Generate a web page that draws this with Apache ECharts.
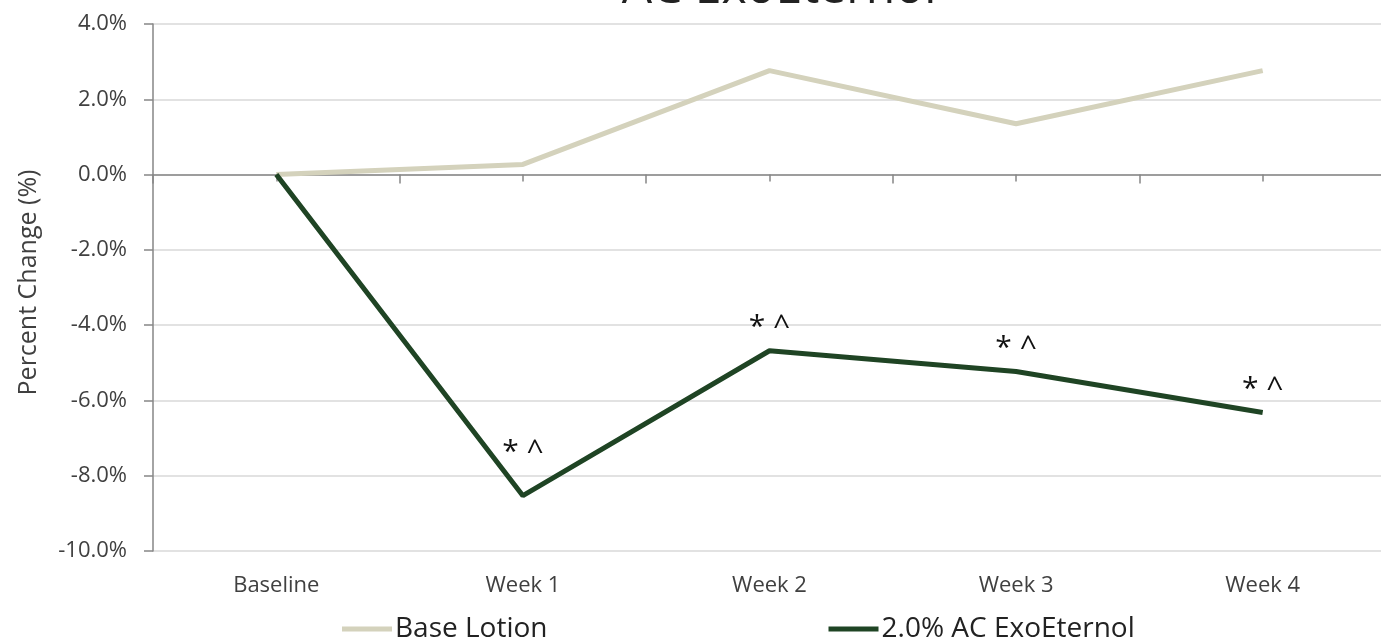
<!DOCTYPE html>
<html>
<head>
<meta charset="utf-8">
<script src="https://cdn.jsdelivr.net/npm/echarts@6/dist/echarts.min.js"></script>
<style>
html,body{margin:0;padding:0;background:#fff;}
#c{width:1381px;height:639px;}
</style>
</head>
<body>
<div id="c"></div>
<script>
const categories = ['Baseline', 'Week 1', 'Week 2', 'Week 3', 'Week 4'];
const baseLotion = [0, 0.27, 2.76, 1.35, 2.76];
const exoEternol = [0, -8.53, -4.68, -5.23, -6.32];
const exoLabels = ['', '* ^', '* ^', '* ^', '* ^'];
const yTicks = { min: -10, max: 4, interval: 2 };
const seriesNames = ['Base Lotion', '2.0% AC ExoEternol'];
const titleText = 'AC ExoEternol';

const FONT = "'Open Sans', sans-serif";
const GRID = { left: 153, right: -5, top: 24, bottom: 88 };
const H = 639;
const plotH = H - GRID.top - GRID.bottom;
const zeroFromBottom = plotH * (0 - yTicks.min) / (yTicks.max - yTicks.min);

const chart = echarts.init(document.getElementById('c'));

const exoData = exoEternol.map((v, i) => ({
  value: v,
  label: {
    show: exoLabels[i] !== '',
    formatter: exoLabels[i],
    distance: i === 1 ? 28 : 8
  }
}));

chart.setOption({
  animation: false,
  title: {
    text: titleText,
    left: 774,
    textAlign: 'center',
    top: -40,
    textStyle: { fontFamily: FONT, fontSize: 48, fontWeight: 'normal', color: '#222' }
  },
  grid: Object.assign({ containLabel: false, outerBoundsMode: 'none' }, GRID),
  legend: {
    bottom: -9,
    left: 337,
    itemGap: 281,
    itemWidth: 50,
    itemHeight: 5,
    icon: 'rect',
    textStyle: { fontFamily: FONT, fontSize: 28, color: '#222', padding: [0, 0, 0, -2] },
    data: seriesNames
  },
  xAxis: [
    {
      type: 'category',
      data: categories,
      boundaryGap: true,
      position: 'bottom',
      axisLine: { onZero: true, lineStyle: { color: '#868686', width: 1.5 } },
      axisTick: { show: true, length: 9, lineStyle: { color: '#868686', width: 1.5 } },
      axisLabel: { show: false },
      splitLine: { show: false }
    },
    {
      type: 'category',
      data: categories,
      boundaryGap: true,
      position: 'bottom',
      axisLine: { show: false, onZero: false },
      axisTick: { show: false },
      axisLabel: { show: true, margin: 24, fontFamily: FONT, fontSize: 22, color: '#404040' },
      splitLine: { show: false }
    },
    {
      type: 'category',
      data: categories,
      boundaryGap: true,
      position: 'bottom',
      offset: -zeroFromBottom,
      axisLine: { show: false, onZero: false },
      axisTick: { show: true, alignWithLabel: true, length: 7, lineStyle: { color: '#868686', width: 1.5 } },
      axisLabel: { show: false },
      splitLine: { show: false }
    }
  ],
  yAxis: {
    type: 'value',
    min: yTicks.min,
    max: yTicks.max,
    interval: yTicks.interval,
    name: 'Percent Change (%)',
    nameLocation: 'middle',
    nameGap: 112,
    nameTextStyle: { fontFamily: FONT, fontSize: 25, color: '#404040', padding: [0, 0, 0, 10] },
    axisLine: { show: true, lineStyle: { color: '#868686', width: 1.5 } },
    axisTick: { show: true, length: 9, lineStyle: { color: '#868686', width: 1.5 } },
    axisLabel: {
      margin: 26,
      fontFamily: FONT,
      fontSize: 22,
      color: '#404040',
      formatter: v => v.toFixed(1) + '%'
    },
    splitLine: { show: true, lineStyle: { color: '#d9d9d9', width: 1.5 } }
  },
  series: [
    {
      name: seriesNames[0],
      type: 'line',
      xAxisIndex: 0,
      data: baseLotion,
      symbol: 'none',
      lineStyle: { color: '#d4d2bc', width: 5 },
      itemStyle: { color: '#d4d2bc' },
      z: 2
    },
    {
      name: seriesNames[1],
      type: 'line',
      xAxisIndex: 0,
      data: exoData,
      symbol: 'circle',
      symbolSize: 0,
      showSymbol: true,
      lineStyle: { color: '#1f4424', width: 5 },
      itemStyle: { color: '#1f4424' },
      label: {
        show: true,
        position: 'top',
        fontFamily: FONT,
        fontSize: 30,
        color: '#111'
      },
      z: 3
    }
  ]
});
</script>
</body>
</html>
